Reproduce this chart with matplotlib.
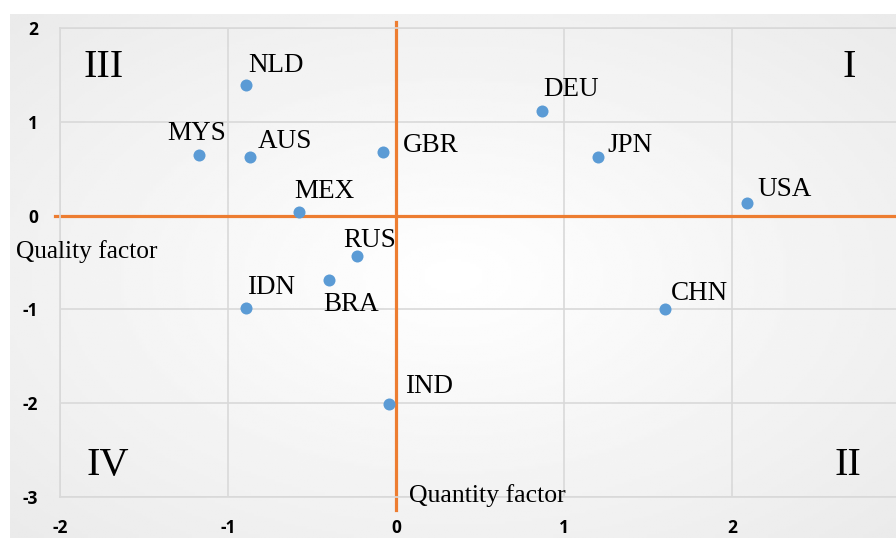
import numpy as np
import matplotlib
matplotlib.use("Agg")
import matplotlib.pyplot as plt

plt.rcParams["axes.unicode_minus"] = False

# country scores: quantity factor (x) and quality factor (y)
countries = ["NLD", "MYS", "AUS", "GBR", "DEU", "JPN", "USA",
             "MEX", "RUS", "BRA", "IDN", "CHN", "IND"]
quantity = [-0.89, -1.17, -0.87, -0.08, 0.87, 1.20, 2.09,
            -0.58, -0.23, -0.40, -0.89, 1.60, -0.04]
quality = [1.39, 0.65, 0.62, 0.68, 1.12, 0.62, 0.13,
           0.04, -0.43, -0.69, -0.98, -1.00, -2.01]

x_ticks = [-2, -1, 0, 1, 2, 3]
y_ticks = [-3, -2, -1, 0, 1, 2]

# label offsets in pixels (dx, dy) from each point
offsets = {"NLD": (2, 13), "MYS": (-32, 15), "AUS": (8, 9), "GBR": (20, 0),
           "DEU": (1, 15), "JPN": (10, 5), "USA": (10, 7), "MEX": (-4, 14),
           "RUS": (-14, 9), "BRA": (-6, -31), "IDN": (1, 14), "CHN": (6, 9),
           "IND": (16, 11)}

serif = "Liberation Serif"
blue = "#5b9bd5"
orange = "#ed7d31"
grid = "#d9d9d9"

fig = plt.figure(figsize=(8.96, 5.38), dpi=100)

# soft grey panel behind the chart
bg = fig.add_axes([10 / 896, 0, 1 - 10 / 896, 524 / 538], zorder=-1)
yy, xx = np.mgrid[-1:1:200j, -1:1:300j]
r = np.sqrt(xx ** 2 + yy ** 2)
bg.imshow(1 - 0.08 * np.clip(r, 0, 1.4) / 1.4, cmap="gray", vmin=0, vmax=1,
          aspect="auto", extent=[0, 1, 0, 1])
bg.axis("off")

ax = fig.add_axes([60 / 896, 41 / 538, 840 / 896, 469 / 538])
ax.patch.set_alpha(0)
ax.set_xlim(-2, 3)
ax.set_ylim(-3, 2)
ax.set_xticks(x_ticks)
ax.set_yticks(y_ticks)
ax.grid(True, color=grid, linewidth=1.2)
ax.set_axisbelow(True)
for s in ax.spines.values():
    s.set_color(grid)
    s.set_linewidth(1.2)
ax.tick_params(length=0)
ax.tick_params(axis="x", pad=16)
ax.tick_params(axis="y", pad=16)
for lab in ax.get_xticklabels() + ax.get_yticklabels():
    lab.set_fontfamily("Open Sans")
    lab.set_fontweight("bold")
    lab.set_fontsize(12.5)

# quadrant dividers
ax.plot([-2.03, 3], [0, 0], color=orange, linewidth=2.3, clip_on=False, zorder=2)
ax.plot([0, 0], [2.06, -3.14], color=orange, linewidth=2.3, clip_on=False, zorder=2)

ax.scatter(quantity, quality, s=75, color=blue, zorder=3, linewidths=0)

for name, xv, yv in zip(countries, quantity, quality):
    dx, dy = offsets[name]
    ax.annotate(name, (xv, yv), xytext=(dx, dy), textcoords="offset pixels",
                ha="left", va="baseline", fontfamily=serif, fontsize=19.5)

# quadrant numbers
ax.text(-1.86, 1.48, "III", fontfamily=serif, fontsize=29, va="baseline", ha="left")
ax.text(2.74, 1.48, "I", fontfamily=serif, fontsize=29, va="baseline", ha="right")
ax.text(-1.84, -2.77, "IV", fontfamily=serif, fontsize=29, va="baseline", ha="left")
ax.text(2.77, -2.77, "II", fontfamily=serif, fontsize=29, va="baseline", ha="right")

ax.text(-2.26, -0.45, "Quality factor", fontfamily=serif, fontsize=18.3,
        va="baseline", ha="left", clip_on=False)
ax.text(0.077, -3.05, "Quantity factor", fontfamily=serif, fontsize=18.5,
        va="baseline", ha="left", clip_on=False)

fig.savefig("out.png", dpi=100)
